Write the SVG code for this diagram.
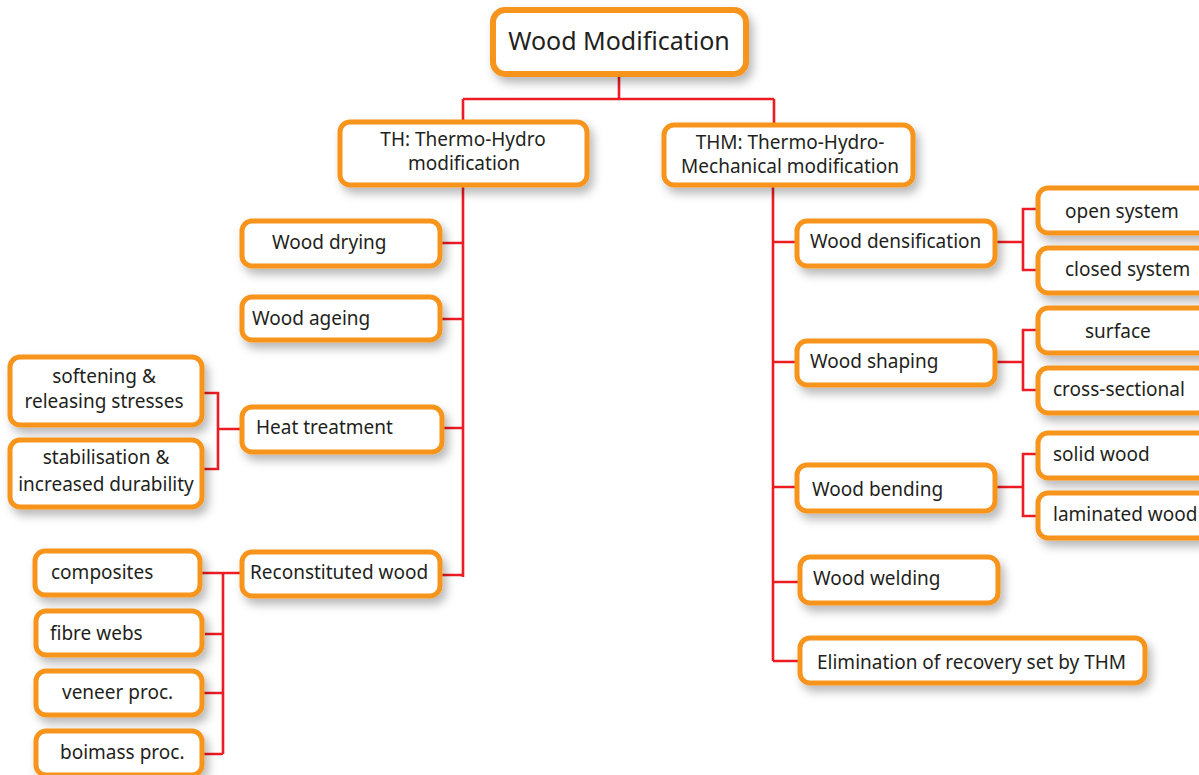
<svg xmlns="http://www.w3.org/2000/svg" width="1199" height="775" viewBox="0 0 1199 775">
<defs>
<filter id="sh" x="-20%" y="-30%" width="150%" height="180%">
<feDropShadow dx="4" dy="6" stdDeviation="5" flood-color="#000" flood-opacity="0.28"/>
</filter>
<style>
.b{fill:#fff;stroke:#F7941D;stroke-width:5;filter:url(#sh)}
.t{font-family:"Noto Sans","Liberation Sans",sans-serif;font-size:19px;fill:#231F20}
.c{text-anchor:middle}
.k{fill:none;stroke:#ED1C24;stroke-width:2.6}
</style>
</defs>
<rect width="1199" height="775" fill="#fff"/>
<g id="connectors">
<path class="k" d="M619 74V99M463 99H774M463 99V122M774 99V125"/>
<path class="k" d="M463 185V577M440 243H463M440 319H463M442 428H463M440 575H463"/>
<path class="k" d="M202 393H218V469H202M218 429H242"/>
<path class="k" d="M200 573H242M223 573V754M205 634H223M202 693H223M202 754H223"/>
<path class="k" d="M773 185V661M773 242H797M773 362H797M773 487H797M773 582H800M773 661H800"/>
<path class="k" d="M995 242H1023M1038 209H1023V270H1038"/>
<path class="k" d="M995 362H1023M1038 330H1023V390H1038"/>
<path class="k" d="M995 487H1023M1038 454H1023V516H1038"/>
</g>
<g id="root"><rect class="b" x="493" y="10" width="253" height="64" rx="12" style="stroke-width:6"/><text class="t c" x="619" y="50" style="font-size:25px">Wood Modification</text></g>
<g id="th"><rect class="b" x="340" y="122" width="247" height="63" rx="10"/><text class="t c" x="463" y="146">TH: Thermo-Hydro</text><text class="t c" x="464" y="170">modification</text></g>
<g id="thm"><rect class="b" x="664" y="125" width="249" height="60" rx="10"/><text class="t c" x="790" y="149">THM: Thermo-Hydro-</text><text class="t c" x="790" y="173">Mechanical modification</text></g>
<g id="drying"><rect class="b" x="242" y="221" width="198" height="45" rx="10"/><text class="t" x="272" y="249">Wood drying</text></g>
<g id="ageing"><rect class="b" x="242" y="297" width="198" height="43" rx="10"/><text class="t" x="252" y="325">Wood ageing</text></g>
<g id="heat"><rect class="b" x="242" y="407" width="200" height="45" rx="10"/><text class="t" x="256" y="434">Heat treatment</text></g>
<g id="recon"><rect class="b" x="242" y="552" width="198" height="44" rx="10"/><text class="t" x="250" y="579">Reconstituted wood</text></g>
<g id="softening"><rect class="b" x="10" y="357" width="192" height="68" rx="10"/><text class="t c" x="104" y="383">softening &amp;</text><text class="t c" x="104" y="408">releasing stresses</text></g>
<g id="stabilisation"><rect class="b" x="10" y="440" width="192" height="67" rx="10"/><text class="t c" x="106" y="464">stabilisation &amp;</text><text class="t c" x="106" y="491">increased durability</text></g>
<g id="composites"><rect class="b" x="35" y="551" width="165" height="44" rx="10"/><text class="t" x="51" y="579">composites</text></g>
<g id="fibre"><rect class="b" x="36" y="611" width="166" height="44" rx="10"/><text class="t" x="50" y="640">fibre webs</text></g>
<g id="veneer"><rect class="b" x="36" y="671" width="166" height="44" rx="10"/><text class="t" x="62" y="699">veneer proc.</text></g>
<g id="boimass"><rect class="b" x="36" y="731" width="166" height="44" rx="10"/><text class="t" x="60" y="759">boimass proc.</text></g>
<g id="densification"><rect class="b" x="797" y="221" width="198" height="45" rx="10"/><text class="t" x="810" y="248">Wood densification</text></g>
<g id="open"><rect class="b" x="1038" y="188" width="170" height="45" rx="10"/><text class="t" x="1065" y="218">open system</text></g>
<g id="closed"><rect class="b" x="1038" y="248" width="170" height="45" rx="10"/><text class="t" x="1065" y="276">closed system</text></g>
<g id="shaping"><rect class="b" x="797" y="341" width="198" height="44" rx="10"/><text class="t" x="810" y="368">Wood shaping</text></g>
<g id="surface"><rect class="b" x="1038" y="308" width="170" height="45" rx="10"/><text class="t" x="1085" y="338">surface</text></g>
<g id="cross"><rect class="b" x="1038" y="368" width="170" height="45" rx="10"/><text class="t" x="1053" y="396">cross-sectional</text></g>
<g id="bending"><rect class="b" x="797" y="465" width="198" height="46" rx="10"/><text class="t" x="812" y="496">Wood bending</text></g>
<g id="solid"><rect class="b" x="1038" y="433" width="170" height="45" rx="10"/><text class="t" x="1053" y="461">solid wood</text></g>
<g id="laminated"><rect class="b" x="1038" y="493" width="170" height="45" rx="10"/><text class="t" x="1053" y="521">laminated wood</text></g>
<g id="welding"><rect class="b" x="800" y="557" width="198" height="46" rx="10"/><text class="t" x="813" y="585">Wood welding</text></g>
<g id="elimination"><rect class="b" x="800" y="638" width="345" height="45" rx="10"/><text class="t" x="817" y="669">Elimination of recovery set by THM</text></g>
</svg>
